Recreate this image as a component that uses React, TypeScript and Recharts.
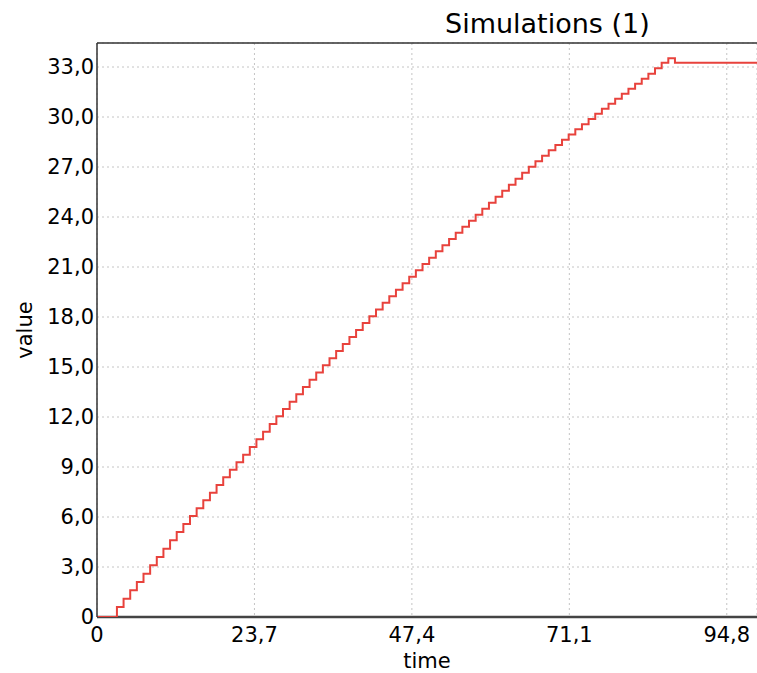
import { LineChart, Line, XAxis, YAxis, CartesianGrid, ReferenceLine } from 'recharts'

// simulation output, one sample per time unit (t = 0..100)
const simValues = [
  0, 0, 0, 0.6, 1.1, 1.6, 2.1, 2.6, 3.1, 3.6,
  4.1, 4.6, 5.1, 5.58, 6.06, 6.53, 7.0, 7.46, 7.92, 8.38,
  8.83, 9.28, 9.74, 10.2, 10.66, 11.12, 11.58, 12.04, 12.48, 12.92,
  13.36, 13.8, 14.24, 14.67, 15.1, 15.53, 15.96, 16.38, 16.8, 17.22,
  17.64, 18.05, 18.45, 18.85, 19.25, 19.64, 20.03, 20.42, 20.8, 21.18,
  21.56, 21.94, 22.31, 22.68, 23.05, 23.42, 23.78, 24.14, 24.5, 24.86,
  25.22, 25.58, 25.94, 26.3, 26.66, 27.02, 27.35, 27.68, 28.0, 28.32,
  28.64, 28.95, 29.26, 29.57, 29.88, 30.19, 30.5, 30.8, 31.1, 31.4,
  31.7, 32.0, 32.3, 32.6, 32.93, 33.26, 33.52, 33.26, 33.26, 33.26,
  33.26, 33.26, 33.26, 33.26, 33.26, 33.26, 33.26, 33.26, 33.26, 33.26,
  33.26,
]

const xTicks = [0, 23.7, 47.4, 71.1, 94.8]
const yTicks = [0, 3, 6, 9, 12, 15, 18, 21, 24, 27, 30, 33]
const xMax = 99.35
const yMax = 34.44

const rows = simValues.map((v, i) => ({ time: i, value: v }))

const fmt = (v: number) => (v === 0 ? '0' : v.toFixed(1).replace('.', ','))

const font = '"DejaVu Sans", sans-serif'
const tickStyle = { fontSize: 21, fill: '#000', fontFamily: font }

export default function App() {
  return (
    <div style={{ position: 'absolute', left: 0, top: 0, width: 757, height: 673, overflow: 'hidden', background: '#fff' }}>
      <div
        style={{
          position: 'absolute', left: 445, top: 9, fontSize: 27, lineHeight: '30px',
          fontFamily: font, color: '#000', whiteSpace: 'nowrap',
        }}
      >
        Simulations (1)
      </div>
      <LineChart width={757} height={673} data={rows} margin={{ top: 43, right: 0, bottom: 0, left: 0 }}>
        <CartesianGrid strokeDasharray="2 3" stroke="#c4c4c4" />
        <XAxis
          dataKey="time"
          type="number"
          domain={[0, xMax]}
          ticks={xTicks}
          allowDataOverflow
          tickFormatter={fmt}
          tickLine={false}
          tickSize={0}
          tickMargin={10}
          height={56}
          axisLine={false}
          tick={tickStyle}
          label={{ value: 'time', position: 'insideBottom', offset: 5, style: { fontSize: 21, fill: '#000', fontFamily: font } }}
        />
        <YAxis
          type="number"
          domain={[0, yMax]}
          ticks={yTicks}
          allowDataOverflow
          tickFormatter={fmt}
          tickLine={false}
          tickSize={0}
          tickMargin={3}
          width={97}
          axisLine={{ stroke: '#333', strokeWidth: 1.5 }}
          tick={tickStyle}
          label={{ value: 'value', angle: -90, position: 'insideLeft', offset: 25, style: { fontSize: 21, fill: '#000', fontFamily: font, textAnchor: 'middle' } }}
        />
        <ReferenceLine y={yMax} stroke="#333" strokeWidth={1.5} />
        <ReferenceLine y={0} stroke="#444" strokeWidth={2.5} />
        <Line
          type="stepAfter"
          dataKey="value"
          stroke="#e8423c"
          strokeWidth={2}
          dot={false}
          isAnimationActive={false}
        />
      </LineChart>
    </div>
  )
}
